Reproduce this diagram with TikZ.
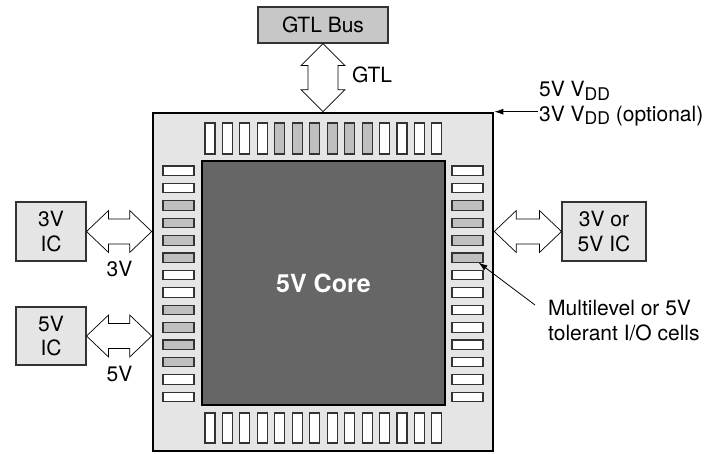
\documentclass[tikz,border=0pt]{standalone}
\usepackage{fontspec}
\setmainfont{TeX Gyre Heros}
\usepackage{tikz}
\usetikzlibrary{arrows.meta,calc,positioning}
\newcommand{\lbl}{\fontsize{21}{24.5}\selectfont}
\newcommand{\sub}[1]{\raisebox{-3.5pt}{\fontsize{17.5}{17.5}\selectfont #1}}
\colorlet{cell0}{white}
\colorlet{cell1}{black!25}
\newcommand{\fatarrowh}[2]{%
  \draw[fatarr] (#1) -- ++(22,-21) -- ++(0,8.5) -- ($(#2)+(-22,-12.5)$) -- ++(0,-8.5)
    -- (#2) -- ++(-22,21) -- ++(0,-8.5) -- ($(#1)+(22,12.5)$) -- ++(0,8.5) -- cycle;}
\tikzset{
  icbox/.style={draw=black!80, line width=1.1pt, fill=black!10, inner sep=0pt, align=center, font=\lbl},
  iocell/.style={draw=black!80, line width=1.1pt, inner sep=0pt},
  fatarr/.style={draw=black, line width=0.7pt, fill=white, line join=miter},
  thinarr/.style={-{Latex[length=9pt,width=6pt]}, line width=0.8pt}
}

\begin{document}
\begin{tikzpicture}[x=1pt,y=-1pt]
  \useasboundingbox (0,0) rectangle (720,453);
  \node[draw, line width=2.6pt, fill=black!10, minimum width=340, minimum height=338, inner sep=0pt] (chip) at (323,282) {};
  \node[draw, line width=2.6pt, fill=black!60, minimum width=243, minimum height=244, inner sep=0pt,
        text=white, font=\fontsize{25}{30}\selectfont\bfseries] (core) at (323.5,283) {5V Core};
  \foreach \i [evaluate=\i as \g using {int((\i>4)*(\i<11))}] in {1,...,14} {
    \node[iocell, fill=cell\g, minimum width=10, minimum height=31] (t\i) at ({210+(\i-1)*17.45},138.5) {};
    \node[iocell, fill=white, minimum width=10, minimum height=30] (b\i) at ({210+(\i-1)*17.45},428) {};
  }
  \foreach \i [evaluate=\i as \g using {int((\i>2)*(\i<7)+(\i>8)*(\i<13))},
               evaluate=\i as \h using {int((\i>2)*(\i<7))}] in {1,...,14} {
    \node[iocell, fill=cell\g, minimum width=31, minimum height=9.5] (l\i) at (178.5,{170.75+(\i-1)*17.4}) {};
    \node[iocell, fill=cell\h, minimum width=31, minimum height=9.5] (r\i) at (467.5,{170.75+(\i-1)*17.4}) {};
  }

  \node[icbox, fill=black!22, minimum width=130, minimum height=36] (gtl) at (323,25) {GTL Bus};
  \node[icbox, minimum width=70, minimum height=59] (ic3) at (51,231.5) {3V\\IC};
  \node[icbox, minimum width=70, minimum height=58] (ic5) at (51,336) {5V\\IC};
  \node[icbox, minimum width=84, minimum height=59] (icx) at (604,231.5) {3V or\\5V IC};

  \coordinate (e3) at (ic3.east -| chip.west);
  \coordinate (e5) at (ic5.east -| chip.west);
  \coordinate (ex) at (icx.west -| chip.east);
  \fatarrowh{ic3.east}{e3}
  \fatarrowh{ic5.east}{e5}
  \fatarrowh{ex}{icx.west}
  \draw[fatarr] (gtl.south) -- ++(22,22) -- ++(-7,0) -- ($(chip.north)+(15,-22)$) -- ++(7,0)
    -- (chip.north) -- ++(-22,-22) -- ++(7,0) -- ($(gtl.south)+(-15,22)$) -- ++(-7,0) -- cycle;

  \node[font=\lbl, anchor=west, inner sep=0pt] (gtllbl) at (352,75) {GTL};
  \node[font=\lbl, inner sep=0pt] (v3) at (119.5,268.5) {3V};
  \node[font=\lbl, inner sep=0pt] (v5) at (119.5,373.5) {5V};

  \node[font=\lbl, align=left, anchor=north west, inner sep=0pt] (vdd) at (539,81)
    {5V V\sub{DD}\\3V V\sub{DD} (optional)};
  \draw[thinarr] (vdd.west |- chip.north east) ++(-1,0) -- (chip.north east);

  \node[font=\lbl, align=left, anchor=north west, inner sep=0pt] (mlv) at (548,300)
    {Multilevel or 5V\\tolerant I/O cells};
  \draw[thinarr] ($(mlv.north west)+(-13,5)$) -- ($(r6.south east)+(-5,-0.5)$);
\end{tikzpicture}
\end{document}
